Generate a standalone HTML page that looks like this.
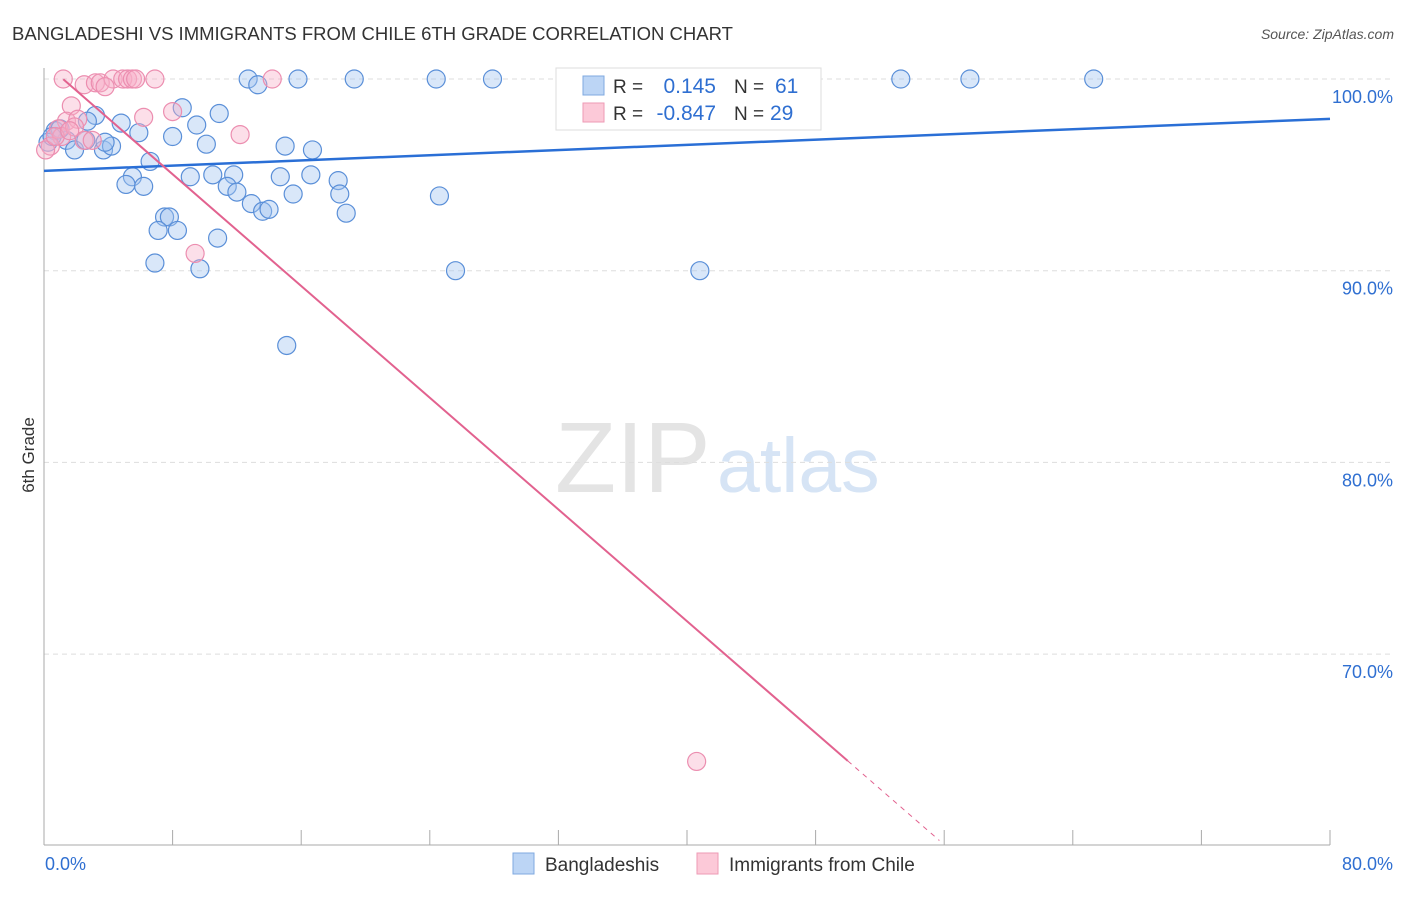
<!DOCTYPE html>
<html><head><meta charset="utf-8"><style>
body{margin:0;background:#fff;font-family:"Liberation Sans",sans-serif}
svg text{font-family:"Liberation Sans",sans-serif}
</style></head><body>
<svg id="c" width="1406" height="892">
<text x="12" y="40" font-size="18.5" fill="#333">BANGLADESHI VS IMMIGRANTS FROM CHILE 6TH GRADE CORRELATION CHART</text>
<text x="1394" y="39" font-size="14" fill="#555" text-anchor="end" font-style="italic">Source: ZipAtlas.com</text>
<text x="34" y="455" font-size="17" fill="#333" text-anchor="middle" transform="rotate(-90 34 455)">6th Grade</text>
<text x="555" y="492" font-size="100" fill="#e4e4e4" font-family="Liberation Serif">ZIP</text>
<text x="717" y="492" font-size="77" fill="#d6e4f5">atlas</text>
<g id="grid"></g><g id="pts"></g><g id="lines"></g>
<g>
<rect x="556" y="68" width="265" height="62" fill="#fff" stroke="#ddd"/>
<rect x="583" y="76" width="21" height="19" fill="#bcd5f5" stroke="#7fa9e0"/>
<rect x="583" y="103" width="21" height="19" fill="#fcc9d8" stroke="#ee9ab5"/>
<text x="613" y="93" font-size="19" fill="#333">R =</text><text x="716" y="93" font-size="21" fill="#2f6fd1" text-anchor="end">0.145</text>
<text x="734" y="93" font-size="19" fill="#333">N =</text><text x="775" y="93" font-size="21" fill="#2f6fd1">61</text>
<text x="613" y="120" font-size="19" fill="#333">R =</text><text x="716" y="120" font-size="21" fill="#2f6fd1" text-anchor="end">-0.847</text>
<text x="734" y="120" font-size="19" fill="#333">N =</text><text x="770" y="120" font-size="21" fill="#2f6fd1">29</text>
</g>
<g>
<rect x="513" y="853" width="21" height="21" fill="#bcd5f5" stroke="#7fa9e0"/><text x="545" y="871" font-size="19" fill="#333">Bangladeshis</text>
<rect x="697" y="853" width="21" height="21" fill="#fcc9d8" stroke="#ee9ab5"/><text x="729" y="871" font-size="19" fill="#333">Immigrants from Chile</text>
</g>
</svg>
<script>
const blueX=[12.7,13.3,15.8,19.3,24.4,27.9,53.3,57.6,65.3,8.6,10.9,3.2,4.8,2.7,9.5,5.9,8.0,10.1,15.0,16.7,0.7,1.4,0.25,1.9,3.7,4.2,2.6,3.8,6.6,5.5,5.1,6.2,9.1,10.5,11.8,14.7,16.6,18.3,11.4,12.0,12.9,15.5,18.4,13.6,14.0,18.8,24.6,7.5,7.8,7.1,8.3,10.8,6.9,9.7,25.6,40.8,15.1,1.0,0.5];
const blueY=[100,99.7,100,100,100,100,100,100,100,98.5,98.2,98.1,97.7,97.8,97.6,97.2,97.0,96.6,96.5,96.3,97.3,96.8,96.7,96.3,96.3,96.5,96.8,96.7,95.7,94.9,94.5,94.4,94.9,95.0,95.0,94.9,95.0,94.7,94.4,94.1,93.5,94.0,94.0,93.1,93.2,93.0,93.9,92.8,92.8,92.1,92.1,91.7,90.4,90.1,90.0,90.0,86.1,97.4,97.0];
const pinkX=[1.2,2.5,3.2,3.5,4.3,4.9,5.2,5.5,5.7,6.9,14.2,3.8,1.7,6.2,8.0,12.2,9.4,40.6,1.4,2.1,0.9,1.1,1.9,2.5,0.4,0.1,0.7,3.0,1.6];
const pinkY=[100,99.7,99.8,99.8,100,100,100,100,100,100,100,99.6,98.6,98.0,98.3,97.1,90.9,64.4,97.8,97.9,97.4,97.0,97.5,96.8,96.5,96.3,97.0,96.8,97.3];
const xTicks=[0,80], yTicks=[100,90,80,70];
const blueLine=[0,95.21,80,97.92], pinkLine=[0,100.86,50,64.43,55.7];
const X=v=>44+v/80*1286, Y=v=>79+(100-v)*19.17;
const NS='http://www.w3.org/2000/svg';
function mk(p,t,a){const e=document.createElementNS(NS,t);for(const k in a)e.setAttribute(k,a[k]);p.appendChild(e);return e;}
const g=document.getElementById('grid');
yTicks.forEach(t=>{
 const l=mk(g,'line',{x1:44,x2:1394,y1:Y(t),y2:Y(t),stroke:'#ddd','stroke-dasharray':'5,4'});
 
 
 const tx=mk(g,'text',{x:1393,y:Y(t)+24,'font-size':18,fill:'#2f6fd1','text-anchor':'end'});tx.textContent=t.toFixed(1)+'%';
 
 
});
mk(g,'line',{x1:44,x2:44,y1:68,y2:845,stroke:'#aaa'});
mk(g,'line',{x1:44,x2:1330,y1:845,y2:845,stroke:'#aaa'});
for(let i=0;i<=10;i++){mk(g,'line',{x1:44+i*128.6,x2:44+i*128.6,y1:830,y2:845,stroke:'#aaa'});}
xTicks.forEach((t,i)=>{const tx=mk(g,'text',{x:i?1393:45,y:870,'font-size':18,fill:'#2f6fd1','text-anchor':i?'end':'start'});tx.textContent=t.toFixed(1)+'%';
 
 });
const p=document.getElementById('pts');
blueX.forEach((x,i)=>{const c=mk(p,'circle',{cx:X(x),cy:Y(blueY[i]),r:9,fill:'rgba(160,196,240,0.4)',stroke:'#5a8fd8','stroke-width':1.2});
 
 });
pinkX.forEach((x,i)=>{const c=mk(p,'circle',{cx:X(x),cy:Y(pinkY[i]),r:9,fill:'rgba(248,175,200,0.4)',stroke:'#ec8eb0','stroke-width':1.2});
 
 });
const L=document.getElementById('lines');
const b=mk(L,'line',{x1:X(blueLine[0]),y1:Y(blueLine[1]),x2:X(blueLine[2]),y2:Y(blueLine[3]),stroke:'#2a6fd6','stroke-width':2.5});


const sl=(pinkLine[3]-pinkLine[1])/pinkLine[2];
const px0=1.2;
const pk=mk(L,'line',{x1:X(px0),y1:Y(pinkLine[1]+sl*px0),x2:X(pinkLine[2]),y2:Y(pinkLine[3]),stroke:'#e2628f','stroke-width':2});


const pd=mk(L,'line',{x1:X(pinkLine[2]),y1:Y(pinkLine[3]),x2:X(pinkLine[4]),y2:Y(pinkLine[1]+sl*pinkLine[4]),stroke:'#e2628f','stroke-width':1,'stroke-dasharray':'5,5'});


</script>
</body></html>
